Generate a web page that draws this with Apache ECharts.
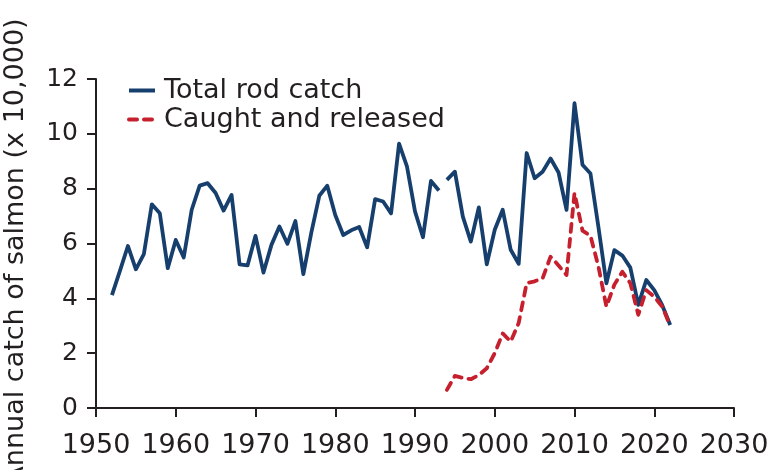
<!DOCTYPE html>
<html>
<head>
<meta charset="utf-8">
<script src="https://cdn.jsdelivr.net/npm/echarts@6/dist/echarts.min.js"></script>
<style>html,body{margin:0;padding:0;background:#fff;}#c{width:770px;height:470px;}</style>
</head>
<body>
<div id="c"></div>
<script>
// Total rod catch (x 10,000), two recorded runs with a break between 1993 and 1994
var totalYearsA = [1952,1953,1954,1955,1956,1957,1958,1959,1960,1961,1962,1963,1964,1965,1966,1967,1968,1969,1970,1971,1972,1973,1974,1975,1976,1977,1978,1979,1980,1981,1982,1983,1984,1985,1986,1987,1988,1989,1990,1991,1992,1993];
var totalValuesA = [4.12,5.0,5.91,5.06,5.61,7.43,7.10,5.10,6.13,5.49,7.23,8.11,8.20,7.84,7.20,7.77,5.24,5.20,6.28,4.94,5.95,6.62,5.99,6.82,4.88,6.40,7.74,8.11,7.04,6.31,6.48,6.60,5.86,7.62,7.53,7.10,9.64,8.80,7.17,6.23,8.28,7.93];
var totalYearsB = [1994,1995,1996,1997,1998,1999,2000,2001,2002,2003,2004,2005,2006,2007,2008,2009,2010,2011,2012,2013,2014,2015,2016,2017,2018,2019,2020,2021,2022];
var totalValuesB = [8.32,8.62,6.98,6.07,7.32,5.24,6.50,7.23,5.77,5.26,9.30,8.38,8.62,9.10,8.59,7.23,11.12,8.87,8.55,6.60,4.55,5.76,5.56,5.12,3.76,4.67,4.30,3.75,3.03];
// Caught and released (x 10,000)
var releasedYears = [1994,1995,1996,1997,1998,1999,2000,2001,2002,2003,2004,2005,2006,2007,2008,2009,2010,2011,2012,2013,2014,2015,2016,2017,2018,2019,2020,2021,2022];
var releasedValues = [0.66,1.17,1.10,1.05,1.20,1.45,2.00,2.72,2.42,3.10,4.55,4.62,4.73,5.52,5.20,4.85,7.84,6.47,6.28,5.16,3.70,4.50,4.97,4.55,3.40,4.30,4.06,3.70,3.00];

var seriesNames = ['Total rod catch', 'Caught and released'];
var yAxisTitle = 'Annual catch of salmon (x 10,000)';

function pairs(xs, ys){ return xs.map(function(x,i){ return [x, ys[i]]; }); }

var FONT = 'DejaVu Sans';
var TXT = '#231f20';
var BLUE = '#173f6d';
var RED = '#c6202e';

var chart = echarts.init(document.getElementById('c'), null, {renderer:'canvas'});
chart.setOption({
  animation: false,
  backgroundColor: '#ffffff',
  textStyle: {fontFamily: FONT, color: TXT},
  grid: {left: 96, right: 36, top: 79, bottom: 62, containLabel: false, outerBoundsMode: 'none'},
  legend: {
    orient: 'vertical',
    left: 122, top: 71,
    itemWidth: 26, itemHeight: 14, itemGap: 0,
    data: seriesNames,
    itemStyle: {opacity: 0},
    lineStyle: {width: 4},
    textStyle: {fontFamily: FONT, fontSize: 27, lineHeight: 29, color: TXT, padding: [0,0,0,4]}
  },
  xAxis: {
    type: 'value', min: 1950, max: 2030, interval: 10,
    axisLine: {lineStyle: {color: TXT, width: 2}},
    axisTick: {show: true, length: 9, lineStyle: {color: TXT, width: 2}},
    axisLabel: {fontFamily: FONT, fontSize: 27, color: TXT, margin: 24, formatter: function(v){return String(v);}},
    splitLine: {show: false}
  },
  yAxis: {
    type: 'value', min: 0, max: 12, interval: 2,
    name: yAxisTitle, nameLocation: 'middle', nameGap: 67, nameRotate: 90,
    nameTextStyle: {fontFamily: FONT, fontSize: 27, color: TXT, padding: [0,16,0,0]},
    axisLine: {show: true, lineStyle: {color: TXT, width: 2}},
    axisTick: {show: true, length: 9, lineStyle: {color: TXT, width: 2}},
    axisLabel: {fontFamily: FONT, fontSize: 25, color: TXT, margin: 18},
    splitLine: {show: false}
  },
  series: [
    {name: seriesNames[0], type: 'line', data: pairs(totalYearsA, totalValuesA), symbol: 'none', showSymbol: false,
     lineStyle: {color: BLUE, width: 3.8, join: 'round'}, itemStyle: {color: BLUE}, z: 3},
    {name: seriesNames[0], type: 'line', data: pairs(totalYearsB, totalValuesB), symbol: 'none', showSymbol: false,
     lineStyle: {color: BLUE, width: 3.8, join: 'round'}, itemStyle: {color: BLUE}, z: 3},
    {name: seriesNames[1], type: 'line', data: pairs(releasedYears, releasedValues), symbol: 'none', showSymbol: false,
     lineStyle: {color: RED, width: 3.8, type: [8, 7], cap: 'round', join: 'round'}, itemStyle: {color: RED}, z: 4}
  ]
});
</script>
</body>
</html>
